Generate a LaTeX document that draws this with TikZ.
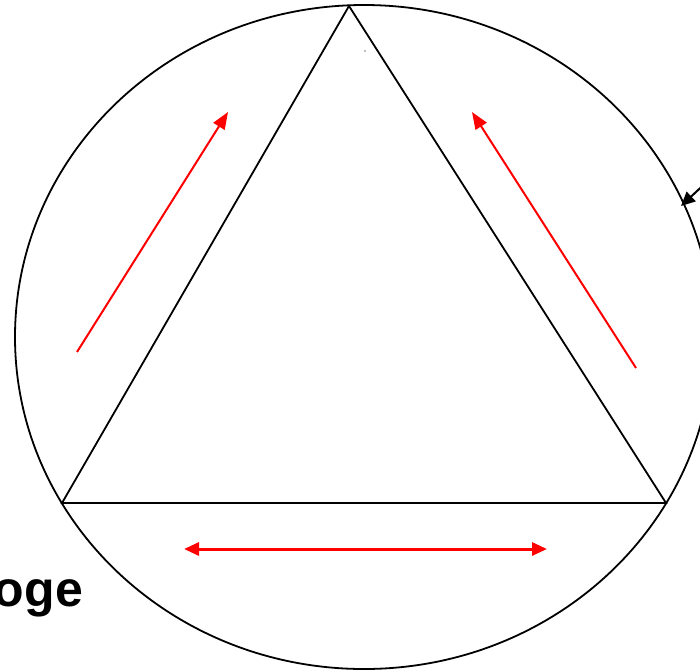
\documentclass[tikz,border=0pt]{standalone}
\usepackage{fontspec}
\setmainfont{Liberation Sans}
\usepackage{tikz}
\usetikzlibrary{arrows.meta}
\definecolor{flow}{HTML}{FF0000}

\begin{document}
\begin{tikzpicture}[
  x=1pt, y=-1pt,
  rim/.style={draw=black, line width=1.8pt},
  flowar/.style={flow, line width=2pt, -{Triangle[length=17pt,width=13pt]}},
  flowboth/.style={flow, line width=3pt, {Triangle[length=15pt,width=13pt]}-{Triangle[length=15pt,width=13pt]}},
  pointer/.style={black, line width=2pt, -{Triangle[length=14pt,width=13pt]}},
  lbl/.style={font=\fontsize{50}{60}\selectfont\bfseries, inner sep=0pt},
]
  \useasboundingbox (0,0) rectangle (700,670);
  \clip (0,0) rectangle (700,670);
  \fill[white] (0,0) rectangle (700,670);

  % ring and triangle
  \coordinate (mid) at (364,337);
  \draw[rim] (mid) ellipse [x radius=349, y radius=332];
  \coordinate (top) at (349,6);
  \coordinate (bl) at (62,503);
  \coordinate (br) at (666,503);
  \draw[rim, line join=miter] (top) -- (bl) -- (br) -- cycle;
  \fill[gray] (365,51) circle (0.8);

  % red arrows
  \coordinate (l0) at (77,352);
  \coordinate (l1) at (228,112);
  \coordinate (r0) at (636,368);
  \coordinate (r1) at (472,112);
  \coordinate (b0) at (184,549);
  \coordinate (b1) at (547,549);
  \draw[flowar] (l0) -- (l1);
  \draw[flowar] (r0) -- (r1);
  \draw[flowboth] (b0) -- (b1);

  % pointer onto the ring
  \coordinate (p0) at (712,177);
  \coordinate (p1) at (681,206);
  \draw[pointer] (p0) -- (p1);

  \node[lbl, anchor=base east] (word) at (83,606) {oge};
\end{tikzpicture}
\end{document}
